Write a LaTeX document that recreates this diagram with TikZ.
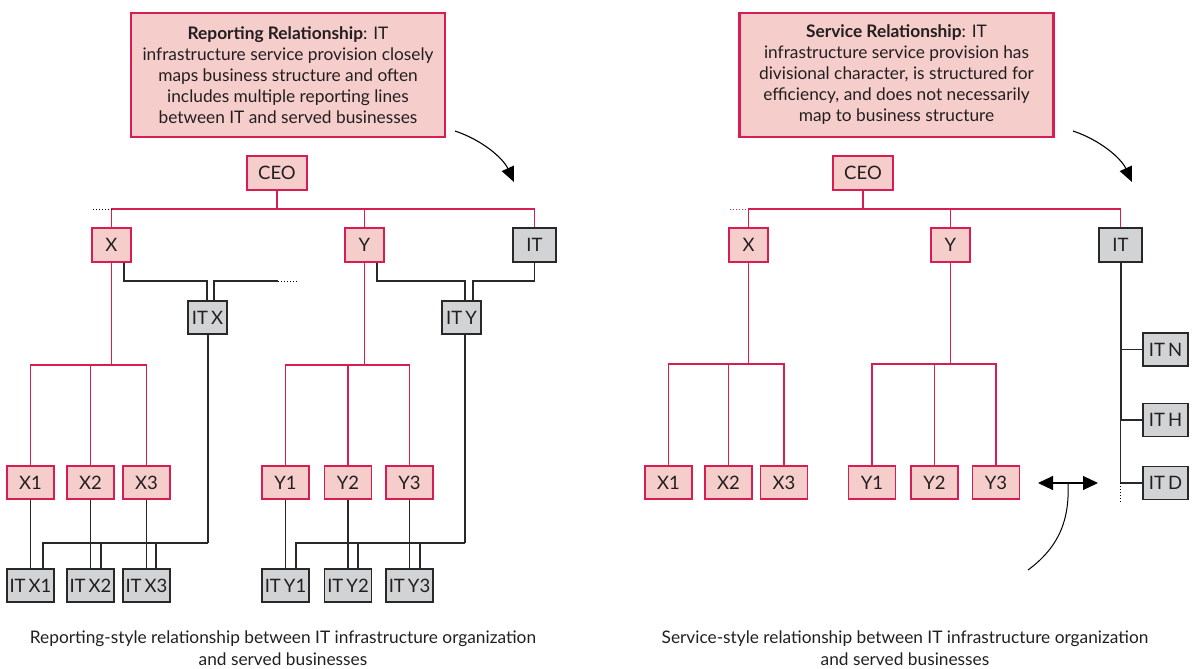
\documentclass[tikz,border=0pt]{standalone}
\usepackage{fontspec}
\setmainfont{Lato}
\usetikzlibrary{arrows.meta}
\definecolor{crim}{RGB}{214,30,82}
\definecolor{pinkfill}{RGB}{245,205,203}
\definecolor{greyfill}{RGB}{209,211,212}
\definecolor{edge}{RGB}{40,40,40}
\definecolor{ink}{RGB}{35,31,32}
\begin{document}
\begin{tikzpicture}[x=1pt,y=-1pt,
  pbox/.style={draw=crim, fill=pinkfill, line width=1.3pt, minimum height=34pt,
    inner sep=0pt, text=ink, font=\fontsize{18.5}{20}\selectfont},
  gbox/.style={draw=edge, fill=greyfill, line width=1.3pt, minimum height=34pt,
    inner sep=0pt, text=ink, font=\fontsize{18.5}{20}\selectfont},
  note/.style={draw=crim, fill=pinkfill, line width=2.6pt, align=center,
    minimum width=314pt, minimum height=124pt, inner sep=0pt, text=ink,
    font=\fontsize{17.3}{21}\selectfont},
  caption/.style={align=center, text=ink, font=\fontsize{17.3}{22}\selectfont},
  pline/.style={draw=crim, line width=1.4pt},
  gline/.style={draw=edge, line width=1.3pt},
  gthick/.style={draw=edge, line width=2pt},
  tail/.style={dotted, line width=1pt},
  pointer/.style={draw=black, line width=1.1pt, -{Triangle[length=15pt,width=13pt]}},
]
\useasboundingbox (0,0) rectangle (1197,669);

% ---------------- reporting-style relationship ----------------
\node[note] (noteL) at (288,75) {\textbf{Reporting Relationship}: IT\\
  infrastructure service provision closely\\
  maps business structure and often\\
  includes multiple reporting lines\\
  between IT and served businesses};
\coordinate (arrL0) at (455,131);
\coordinate (arrL1) at (514,182);
\draw[pointer] (arrL0) .. controls (482,140) and (503,158) .. (arrL1);

\node[pbox, minimum width=60pt] (ceoL) at (277,173) {CEO};
\node[pbox, minimum width=39pt] (xL) at (111.5,245) {X};
\node[pbox, minimum width=39pt] (yL) at (364.5,245) {Y};
\node[gbox, minimum width=43pt] (itL) at (534.5,245) {IT};
\node[gbox, minimum width=39pt, minimum height=33pt] (itxL) at (207.5,317.5) {IT\,X};
\node[gbox, minimum width=39pt, minimum height=33pt] (ityL) at (461.5,317.5) {IT\,Y};

\foreach \n/\x in {1/30.5,2/90.5,3/146.5}{
  \node[pbox, minimum width=47pt, minimum height=33pt] (x\n L) at (\x,482.5) {X\n};
  \node[gbox, minimum width=47pt, minimum height=33pt] (itx\n L) at (\x,585.5) {IT\,X\n};
}
\foreach \n/\x in {1/285.5,2/348,3/409.5}{
  \node[pbox, minimum width=47pt, minimum height=33pt] (y\n L) at (\x,482.5) {Y\n};
  \node[gbox, minimum width=47pt, minimum height=33pt] (ity\n L) at (\x,585.5) {IT\,Y\n};
}

\coordinate (busL) at (0,209);
\coordinate (subL) at (0,365);
\coordinate (itbusL) at (0,281);
\coordinate (lowL) at (0,543);

% attachment points on the IT boxes
\coordinate (xOut) at ([xshift=12.5pt]xL.south);
\coordinate (yOut) at ([xshift=12.5pt]yL.south);
\coordinate (itxInA) at ([xshift=-0.5pt]itxL.north);
\coordinate (itxInB) at ([xshift=6.5pt]itxL.north);
\coordinate (ityInA) at ([xshift=3.5pt]ityL.north);
\coordinate (ityInB) at ([xshift=11.5pt]ityL.north);
\coordinate (itxDown) at (itxL.south);
\coordinate (ityDown) at ([xshift=3.5pt]ityL.south);
\coordinate (itx1In) at ([xshift=12.5pt]itx1L.north);
\coordinate (itx2In) at ([xshift=10.5pt]itx2L.north);
\coordinate (itx3In) at ([xshift=9.5pt]itx3L.north);
\coordinate (ity1In) at ([xshift=10.5pt]ity1L.north);
\coordinate (ity2In) at ([xshift=10pt]ity2L.north);
\coordinate (ity3In) at ([xshift=10.5pt]ity3L.north);

% business reporting lines
\draw[pline] (ceoL.south) -- (ceoL.south |- busL);
\draw[pline] (xL.north) -- (xL.north |- busL) -- (itL.north |- busL) -- (itL.north);
\draw[pline] (yL.north) -- (yL.north |- busL);
\draw[tail] (xL.north |- busL) -- ++(-20,0);
\draw[pline] (xL.south) -- (xL.south |- subL);
\draw[pline] (x1L.north) -- (x1L.north |- subL) -- (x3L.north |- subL) -- (x3L.north);
\draw[pline] (x2L.north) -- (x2L.north |- subL);
\draw[pline] (yL.south) -- (yL.south |- subL);
\draw[pline] (y1L.north) -- (y1L.north |- subL) -- (y3L.north |- subL) -- (y3L.north);
\draw[pline] (y2L.north) -- (y2L.north |- subL);

% IT reporting lines
\draw[gline] (xOut) -- (xOut |- itbusL) -- (itxInA |- itbusL) -- (itxInA);
\draw[gline] (itxInB) -- (itxInB |- itbusL) -- (278,281) coordinate (itxTail);
\draw[tail] (itxTail) -- ++(20,0);
\draw[gline] (yOut) -- (yOut |- itbusL) -- (ityInA |- itbusL) -- (ityInA);
\draw[gline] (itL.south) -- (itL.south |- itbusL) -- (ityInB |- itbusL) -- (ityInB);

\draw[gthick] (itxDown) -- (itxDown |- lowL);
\draw[gline] (itxDown |- lowL) -- (itx1In |- lowL) -- (itx1In);
\draw[gline] (itx2In |- lowL) -- (itx2In);
\draw[gline] (itx3In |- lowL) -- (itx3In);
\foreach \n in {1,2,3}{
  \draw[gline] (x\n L.south) -- (itx\n L.north);
}
\draw[gthick] (ityDown) -- (ityDown |- lowL);
\draw[gline] (ityDown |- lowL) -- (ity1In |- lowL) -- (ity1In);
\draw[gline] (ity2In |- lowL) -- (ity2In);
\draw[gline] (ity3In |- lowL) -- (ity3In);
\foreach \n in {1,2,3}{
  \draw[gline] (y\n L.south) -- (ity\n L.north);
}

\node[caption] (capL) at (283,648) {Reporting-style relationship between IT infrastructure organization\\and served businesses};

% ---------------- service-style relationship ----------------
\node[note] (noteR) at (896.5,75) {\textbf{Service Relationship}: IT\\
  infrastructure service provision has\\
  divisional character, is structured for\\
  efficiency, and does not necessarily\\
  map to business structure};
\coordinate (arrR0) at (1073,131);
\coordinate (arrR1) at (1132,182);
\draw[pointer] (arrR0) .. controls (1100,140) and (1121,158) .. (arrR1);

\node[pbox, minimum width=60pt] (ceoR) at (863,173) {CEO};
\node[pbox, minimum width=39pt] (xR) at (748.5,245) {X};
\node[pbox, minimum width=39pt] (yR) at (950.5,245) {Y};
\node[gbox, minimum width=43pt] (itR) at (1120.5,245) {IT};

\foreach \n/\x in {1/668.5,2/728.5,3/784}{
  \node[pbox, minimum width=47pt, minimum height=33pt] (x\n R) at (\x,482.5) {X\n};
}
\foreach \n/\x in {1/872,2/934.5,3/996}{
  \node[pbox, minimum width=47pt, minimum height=33pt] (y\n R) at (\x,482.5) {Y\n};
}
\node[gbox, minimum width=45pt, minimum height=33pt] (itnR) at (1165.5,349.5) {IT\,N};
\node[gbox, minimum width=45pt, minimum height=33pt] (ithR) at (1165.5,420) {IT\,H};
\node[gbox, minimum width=45pt, minimum height=33pt] (itdR) at (1165.5,483) {IT\,D};

\coordinate (busR) at (0,209);
\coordinate (subR) at (0,364);

\draw[pline] (ceoR.south) -- (ceoR.south |- busR);
\draw[pline] (xR.north) -- (xR.north |- busR) -- (itR.north |- busR) -- (itR.north);
\draw[pline] (yR.north) -- (yR.north |- busR);
\draw[tail, crim] (xR.north |- busR) -- ++(-20,0);
\draw[pline] (xR.south) -- (xR.south |- subR);
\draw[pline] (x1R.north) -- (x1R.north |- subR) -- (x3R.north |- subR) -- (x3R.north);
\draw[pline] (x2R.north) -- (x2R.north |- subR);
\draw[pline] (yR.south) -- (yR.south |- subR);
\draw[pline] (y1R.north) -- (y1R.north |- subR) -- (y3R.north |- subR) -- (y3R.north);
\draw[pline] (y2R.north) -- (y2R.north |- subR);

% IT service divisions
\draw[gthick] (itR.south) -- (itR.south |- ithR.west);
\draw[gline] (itR.south |- ithR.west) -- (itR.south |- itdR.west);
\draw[tail] (itR.south |- itdR.west) -- ++(0,20);
\foreach \d in {itnR,ithR,itdR}{
  \draw[gline] (\d.west) -- (\d.west -| itR.south);
}

% marker between business and IT sides
\coordinate (dblL) at (1038,483);
\coordinate (dblR) at (1098,483);
\coordinate (dblM) at (1068,483);
\coordinate (dblEnd) at (1028,570);
\draw[draw=black, line width=1.1pt, {Triangle[length=15pt,width=14pt]}-{Triangle[length=15pt,width=14pt]}] (dblL) -- (dblR);
\draw[draw=black, line width=1pt] (dblM) .. controls (1070,525) and (1055,550) .. (dblEnd);

\node[caption] (capR) at (905,648) {Service-style relationship between IT infrastructure organization\\and served businesses};
\end{tikzpicture}
\end{document}
